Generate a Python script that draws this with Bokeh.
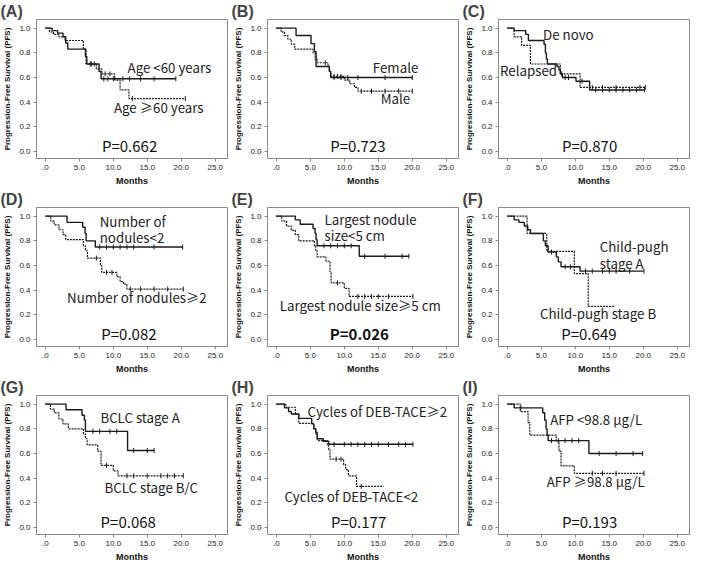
import numpy as np
from bokeh.plotting import figure
from bokeh.layouts import gridplot
from bokeh.models import FixedTicker, Range1d
from bokeh.core.properties import value
from bokeh.embed import file_html
from bokeh.resources import INLINE

# ---------------- data ----------------
x_ticks = [0, 5, 10, 15, 20, 25]
x_tick_labels = [".0", "5.0", "10.0", "15.0", "20.0", "25.0"]
y_ticks = [0.0, 0.2, 0.4, 0.6, 0.8, 1.0]
y_tick_labels = ["0.0", "0.2", "0.4", "0.6", "0.8", "1.0"]

panel_labels = ["(A)", "(B)", "(C)", "(D)", "(E)", "(F)", "(G)", "(H)", "(I)"]
p_values = ["P=0.662", "P=0.723", "P=0.870", "P=0.082", "P=0.026",
            "P=0.649", "P=0.068", "P=0.177", "P=0.193"]

# (A) Age
a_solid_t = [1.0, 1.8, 2.6, 3.0, 3.3, 5.9, 6.1, 7.9, 8.2]
a_solid_s = [0.98, 0.96, 0.93, 0.88, 0.83, 0.77, 0.71, 0.65, 0.59]
a_solid_end = 19.2
a_solid_cens = [6.6, 7.2, 8.6, 9.2, 10.0, 11.4, 12.4, 14.0, 16.0, 19.2]
a_dash_t = [0.6, 1.2, 2.0, 2.9, 5.6, 6.0, 7.5, 8.3, 10.2, 11.0, 12.3]
a_dash_s = [0.97, 0.95, 0.93, 0.90, 0.83, 0.71, 0.67, 0.63, 0.58, 0.50, 0.43]
a_dash_end = 20.6
a_dash_cens = [6.8, 8.8, 9.5, 12.8, 20.6]
a_groups = ["Age <60 years", "Age \u226560 years"]

# (B) Sex
b_solid_t = [2.9, 5.1, 5.6, 5.85, 7.8, 8.0]
b_solid_s = [0.94, 0.875, 0.81, 0.69, 0.65, 0.60]
b_solid_end = 20.0
b_solid_cens = [8.5, 9.5, 10.5, 12.0, 16.0, 20.0]
b_dash_t = [0.7, 1.2, 1.7, 2.2, 2.7, 5.4, 5.7, 6.0, 7.6, 7.8, 8.0, 10.0, 10.8, 11.5, 12.0]
b_dash_s = [0.97, 0.94, 0.91, 0.87, 0.83, 0.80, 0.75, 0.72, 0.69, 0.65, 0.61, 0.58, 0.55, 0.52, 0.49]
b_dash_end = 20.0
b_dash_cens = [7.2, 8.5, 9.0, 9.5, 12.5, 14.0, 16.0, 18.0, 20.0]
b_groups = ["Female", "Male"]

# (C) De novo / Relapsed
c_solid_t = [1.0, 2.7, 3.1, 5.4, 5.6, 5.75, 5.9, 7.3, 7.6, 7.8, 8.1, 10.1, 12.1]
c_solid_s = [0.98, 0.95, 0.90, 0.87, 0.80, 0.75, 0.71, 0.69, 0.66, 0.63, 0.60, 0.57, 0.50]
c_solid_end = 20.2
c_solid_cens = [8.5, 9.0, 11.0, 13.0, 14.0, 15.0, 16.0, 17.0, 18.0, 19.0, 20.2]
c_dash_t = [1.0, 2.1, 3.4, 7.8, 10.7]
c_dash_s = [0.93, 0.86, 0.71, 0.63, 0.52]
c_dash_end = 20.3
c_dash_cens = [8.0, 12.5, 14.0, 16.0, 19.5, 20.3]
c_groups = ["De novo", "Relapsed"]

# (D) Number of nodules
d_solid_t = [3.2, 5.5, 5.85, 6.0, 7.35]
d_solid_s = [0.95, 0.91, 0.86, 0.80, 0.75]
d_solid_end = 20.2
d_solid_cens = [8.0, 9.0, 10.0, 11.0, 12.0, 13.0, 16.0, 20.2]
d_dash_t = [0.8, 1.3, 2.0, 2.6, 3.0, 5.6, 5.9, 6.2, 8.1, 8.3, 10.5, 11.0, 11.5, 12.0]
d_dash_s = [0.96, 0.93, 0.89, 0.85, 0.81, 0.76, 0.72, 0.66, 0.60, 0.545, 0.51, 0.47, 0.45, 0.41]
d_dash_end = 20.3
d_dash_cens = [7.5, 9.0, 9.8, 12.5, 14.0, 16.0, 18.0, 20.3]
d_groups = ["Number of", "nodules<2", "Number of nodules\u22652"]

# (E) Largest nodule size
e_solid_t = [2.8, 3.5, 5.4, 5.7, 5.85, 6.0, 12.2]
e_solid_s = [0.97, 0.935, 0.90, 0.86, 0.81, 0.76, 0.675]
e_solid_end = 19.5
e_solid_cens = [7.0, 8.0, 9.0, 10.0, 11.0, 13.0, 16.0, 18.5, 19.5]
e_dash_t = [0.8, 1.5, 2.2, 2.8, 3.3, 5.6, 5.8, 6.0, 7.3, 7.9, 8.05, 10.0, 10.7]
e_dash_s = [0.96, 0.92, 0.885, 0.85, 0.80, 0.76, 0.72, 0.67, 0.635, 0.55, 0.46, 0.415, 0.35]
e_dash_end = 20.1
e_dash_cens = [9.0, 12.0, 13.0, 14.0, 15.0, 16.5, 20.1]
e_groups = ["Largest nodule", "size<5 cm", "Largest nodule size\u22655 cm"]

# (F) Child-pugh stage
f_solid_t = [1.0, 1.7, 2.5, 3.0, 3.4, 5.3, 5.6, 6.0, 7.2, 7.5, 7.9, 10.7]
f_solid_s = [0.97, 0.95, 0.92, 0.89, 0.86, 0.80, 0.76, 0.71, 0.67, 0.63, 0.59, 0.555]
f_solid_end = 20.1
f_solid_cens = [6.5, 8.5, 9.3, 11.5, 12.5, 14.0, 15.0, 16.0, 18.0, 20.1]
f_dash_t = [2.9, 5.8, 9.85, 11.9]
f_dash_s = [0.86, 0.715, 0.535, 0.27]
f_dash_end = 15.8
f_dash_cens = []
f_groups = ["Child-pugh", "stage A", "Child-pugh stage B"]

# (G) BCLC stage
g_solid_t = [3.05, 5.4, 5.75, 5.9, 12.1]
g_solid_s = [0.955, 0.91, 0.87, 0.78, 0.625]
g_solid_end = 16.0
g_solid_cens = [7.0, 8.0, 9.5, 10.5, 13.0, 15.0, 16.0]
g_dash_t = [0.75, 1.3, 2.0, 2.6, 3.4, 5.6, 5.9, 6.15, 7.7, 8.2, 10.0, 10.7]
g_dash_s = [0.96, 0.93, 0.88, 0.84, 0.80, 0.76, 0.72, 0.67, 0.62, 0.505, 0.46, 0.42]
g_dash_end = 20.3
g_dash_cens = [9.0, 12.0, 13.0, 15.0, 17.0, 18.0, 19.0, 20.3]
g_groups = ["BCLC stage A", "BCLC stage B/C"]

# (H) Cycles of DEB-TACE
h_solid_t = [1.2, 1.8, 2.2, 3.3, 5.2, 5.5, 5.8, 6.0, 6.9, 7.7]
h_solid_s = [0.97, 0.94, 0.92, 0.885, 0.84, 0.80, 0.77, 0.72, 0.70, 0.675]
h_solid_end = 20.1
h_solid_cens = [8.5, 10.0, 11.0, 12.0, 13.0, 14.0, 15.0, 16.5, 18.0, 19.0, 20.1]
h_dash_t = [1.4, 2.8, 3.3, 5.5, 5.8, 6.05, 7.5, 7.7, 7.9, 9.9, 10.2, 10.6, 11.8]
h_dash_s = [0.975, 0.92, 0.845, 0.80, 0.76, 0.705, 0.67, 0.63, 0.555, 0.51, 0.47, 0.42, 0.335]
h_dash_end = 15.8
h_dash_cens = [8.8, 9.5, 12.5]
h_groups = ["Cycles of DEB-TACE\u22652", "Cycles of DEB-TACE<2"]

# (I) AFP
i_solid_t = [1.0, 5.2, 5.5, 5.7, 5.85, 6.0, 12.0]
i_solid_s = [0.97, 0.93, 0.87, 0.80, 0.75, 0.705, 0.60]
i_solid_end = 19.9
i_solid_cens = [2.0, 6.5, 7.5, 8.5, 9.5, 10.5, 13.5, 16.0, 18.5, 19.9]
i_dash_t = [1.9, 3.05, 3.3, 7.2, 7.6, 7.9, 9.85]
i_dash_s = [0.94, 0.85, 0.75, 0.70, 0.62, 0.50, 0.44]
i_dash_end = 20.1
i_dash_cens = [12.5, 14.0, 16.0, 20.1]
i_groups = ["AFP <98.8 \u03bcg/L", "AFP \u226598.8 \u03bcg/L"]

# ---------------- panel configuration (annotation placement) ----------------
panels = [
    dict(solid=(a_solid_t, a_solid_s, a_solid_end, a_solid_cens),
         dash=(a_dash_t, a_dash_s, a_dash_end, a_dash_cens),
         groups=a_groups, pos=[(12.1, 0.68), (10.1, 0.36)], px=12.4),
    dict(solid=(b_solid_t, b_solid_s, b_solid_end, b_solid_cens),
         dash=(b_dash_t, b_dash_s, b_dash_end, b_dash_cens),
         groups=b_groups, pos=[(14.2, 0.685), (15.35, 0.43)], px=12.0),
    dict(solid=(c_solid_t, c_solid_s, c_solid_end, c_solid_cens),
         dash=(c_dash_t, c_dash_s, c_dash_end, c_dash_cens),
         groups=c_groups, pos=[(5.25, 0.945), (-1.07, 0.655)], px=12.1),
    dict(solid=(d_solid_t, d_solid_s, d_solid_end, d_solid_cens),
         dash=(d_dash_t, d_dash_s, d_dash_end, d_dash_cens),
         groups=d_groups, pos=[(8.0, 0.96), (8.0, 0.825), (3.2, 0.345)], px=12.3),
    dict(solid=(e_solid_t, e_solid_s, e_solid_end, e_solid_cens),
         dash=(e_dash_t, e_dash_s, e_dash_end, e_dash_cens),
         groups=e_groups, pos=[(7.1, 0.97), (7.1, 0.845), (0.5, 0.275)], px=12.2, bold=True),
    dict(solid=(f_solid_t, f_solid_s, f_solid_end, f_solid_cens),
         dash=(f_dash_t, f_dash_s, f_dash_end, f_dash_cens),
         groups=f_groups, pos=[(13.6, 0.755), (13.6, 0.615), (4.8, 0.215)], px=12.0),
    dict(solid=(g_solid_t, g_solid_s, g_solid_end, g_solid_cens),
         dash=(g_dash_t, g_dash_s, g_dash_end, g_dash_cens),
         groups=g_groups, pos=[(8.1, 0.895), (8.7, 0.325)], px=12.2),
    dict(solid=(h_solid_t, h_solid_s, h_solid_end, h_solid_cens),
         dash=(h_dash_t, h_dash_s, h_dash_end, h_dash_cens),
         groups=h_groups, pos=[(4.6, 0.94), (1.2, 0.25)], px=12.1),
    dict(solid=(i_solid_t, i_solid_s, i_solid_end, i_solid_cens),
         dash=(i_dash_t, i_dash_s, i_dash_end, i_dash_cens),
         groups=i_groups, pos=[(6.3, 0.875), (5.8, 0.37)], px=12.1),
]

LINE = "#1a1a1a"
AX = "#8a8a8a"
TXT_FONT = "Noto Sans CJK SC"
AX_FONT = "Liberation Sans"


def km_xy(t, s, end):
    return [0.0] + list(t) + [end], [1.0] + list(s) + [s[-1]]


def cens_y(t, s, cens):
    out = []
    for c in cens:
        k = int(np.searchsorted(t, c, side="right"))
        out.append(1.0 if k == 0 else s[k - 1])
    return out


figs = []
for i, cfg in enumerate(panels):
    p = figure(width=231, height=188, output_backend="svg", toolbar_location=None,
               x_range=Range1d(-1.3, 26.8), y_range=Range1d(-0.055, 1.07),
               min_border_left=2, min_border_right=4, min_border_top=0, min_border_bottom=0,
               title=panel_labels[i])
    p.title.text_font = AX_FONT
    p.title.text_font_style = "bold"
    p.title.text_font_size = "16px"
    p.title.offset = -36
    p.title.standoff = 0
    p.outline_line_color = AX
    p.outline_line_width = 1
    p.xgrid.visible = False
    p.ygrid.visible = False

    for ax in (p.xaxis[0], p.yaxis[0]):
        ax.axis_line_color = AX
        ax.major_tick_line_color = AX
        ax.major_tick_out = 3
        ax.major_tick_in = 0
        ax.minor_tick_line_color = None
        ax.major_label_text_font = AX_FONT
        ax.major_label_text_font_size = "8px"
        ax.major_label_text_color = "#222222"
        ax.axis_label_text_font = AX_FONT
        ax.axis_label_text_font_style = "bold"
        ax.axis_label_text_color = "#111111"
    p.xaxis.ticker = FixedTicker(ticks=x_ticks)
    p.xaxis.major_label_overrides = {t: l for t, l in zip(x_ticks, x_tick_labels)}
    p.yaxis.ticker = FixedTicker(ticks=y_ticks)
    p.yaxis.major_label_overrides = {t: l for t, l in zip(y_ticks, y_tick_labels)}
    p.xaxis.axis_label = "Months"
    p.xaxis.axis_label_text_font_size = "9px"
    p.xaxis.axis_label_standoff = 3
    p.yaxis.axis_label = "Progression-Free Survival (PFS)"
    p.yaxis.axis_label_text_font_size = "8px"
    p.yaxis.axis_label_standoff = 4
    p.yaxis.major_label_standoff = 3
    p.xaxis.major_label_standoff = 3

    # curves
    for key, dash in (("dash", "2 1"), ("solid", "solid")):
        t, s, end, cens = cfg[key]
        xs, ys = km_xy(t, s, end)
        p.step(xs, ys, mode="after", line_color=LINE,
               line_width=1.4 if key == "solid" else 1.2, line_dash=dash)
        if cens:
            p.scatter(cens, cens_y(t, s, cens), marker="dash", angle=np.pi / 2,
                      size=5, line_color=LINE, line_width=1)

    # group labels
    gx = [q[0] for q in cfg["pos"]]
    gy = [q[1] for q in cfg["pos"]]
    p.text(gx, gy, text=cfg["groups"], text_font=value(TXT_FONT),
           text_font_size="13.3px", text_baseline="middle", text_align="left",
           text_color="#222222")
    # p-value
    p.text([cfg["px"]], [0.05], text=[p_values[i]], text_font=value(TXT_FONT),
           text_font_size="15px", text_baseline="middle", text_align="center",
           text_color="#111111",
           text_font_style="bold" if cfg.get("bold") else "normal")
    figs.append(p)

grid = gridplot(figs, ncols=3, toolbar_location=None)
open("out.html", "w").write(file_html(grid, INLINE))
